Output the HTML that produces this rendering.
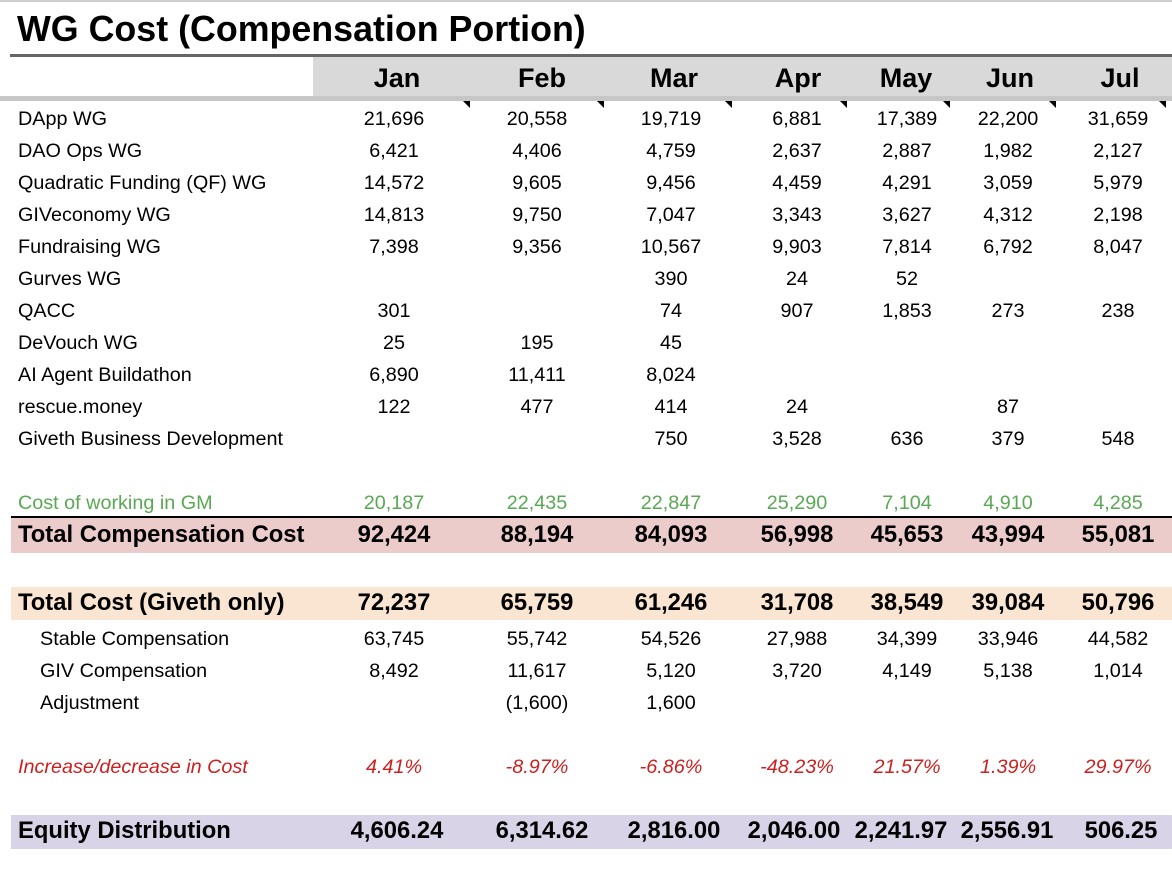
<!DOCTYPE html>
<html><head><meta charset="utf-8"><style>
body{margin:0;width:1172px;height:872px;background:#fff;font-family:"Liberation Sans",Arial,sans-serif;position:relative;overflow:hidden}
.a{position:absolute}
.r{position:absolute;left:0;width:1172px;height:32px;line-height:32px;font-size:19.8px;color:#000}
.r span{position:absolute;top:0;white-space:nowrap}
.r span.v{width:140px;text-align:center}
.g{color:#5aa854}
.red{color:#cc1f1f;font-style:italic}
.b{font-weight:bold;font-size:23.8px}
.tri{position:absolute;width:0;height:0;border-top:7px solid #000;border-left:7px solid transparent}
</style></head><body>
<div class="a" style="left:0;top:0;width:1172px;height:2px;background:#ccc"></div>
<div class="a" style="left:17px;top:7px;font-size:35.8px;font-weight:bold;line-height:44px">WG Cost (Compensation Portion)</div>
<div class="a" style="left:10px;top:54px;width:1162px;height:3px;background:#666"></div>
<div class="a" style="left:313px;top:57px;width:859px;height:39px;background:#d9d9d9"></div>
<div class="a" style="left:0;top:96px;width:1172px;height:5px;background:#c6c6c6"></div>
<div class="r b" style="top:60px;font-size:27px;line-height:36px">
<span class="v" style="left:327px">Jan</span><span class="v" style="left:472px">Feb</span><span class="v" style="left:604px">Mar</span><span class="v" style="left:728px">Apr</span><span class="v" style="left:836px">May</span><span class="v" style="left:940px">Jun</span><span class="v" style="left:1050px">Jul</span></div>
<div class="tri" style="left:463px;top:101px"></div><div class="tri" style="left:597px;top:101px"></div><div class="tri" style="left:725px;top:101px"></div><div class="tri" style="left:840px;top:101px"></div><div class="tri" style="left:943px;top:101px"></div><div class="tri" style="left:1049px;top:101px"></div><div class="tri" style="left:1159px;top:101px"></div>

<div class="a" style="left:11px;top:518px;width:1161px;height:35px;background:#eccbcb"></div>
<div class="a" style="left:11px;top:516px;width:1161px;height:2px;background:#000"></div>
<div class="a" style="left:11px;top:587px;width:1161px;height:33px;background:#f9e5d1"></div>
<div class="a" style="left:11px;top:815px;width:1161px;height:34px;background:#d9d3e8"></div>

<div class="r" style="top:103px"><span style="left:18px">DApp WG</span><span class="v" style="left:324px">21,696</span><span class="v" style="left:467px">20,558</span><span class="v" style="left:601px">19,719</span><span class="v" style="left:727px">6,881</span><span class="v" style="left:837px">17,389</span><span class="v" style="left:938px">22,200</span><span class="v" style="left:1048px">31,659</span></div>
<div class="r" style="top:135px"><span style="left:18px">DAO Ops WG</span><span class="v" style="left:324px">6,421</span><span class="v" style="left:467px">4,406</span><span class="v" style="left:601px">4,759</span><span class="v" style="left:727px">2,637</span><span class="v" style="left:837px">2,887</span><span class="v" style="left:938px">1,982</span><span class="v" style="left:1048px">2,127</span></div>
<div class="r" style="top:167px"><span style="left:18px">Quadratic Funding (QF) WG</span><span class="v" style="left:324px">14,572</span><span class="v" style="left:467px">9,605</span><span class="v" style="left:601px">9,456</span><span class="v" style="left:727px">4,459</span><span class="v" style="left:837px">4,291</span><span class="v" style="left:938px">3,059</span><span class="v" style="left:1048px">5,979</span></div>
<div class="r" style="top:199px"><span style="left:18px">GIVeconomy WG</span><span class="v" style="left:324px">14,813</span><span class="v" style="left:467px">9,750</span><span class="v" style="left:601px">7,047</span><span class="v" style="left:727px">3,343</span><span class="v" style="left:837px">3,627</span><span class="v" style="left:938px">4,312</span><span class="v" style="left:1048px">2,198</span></div>
<div class="r" style="top:231px"><span style="left:18px">Fundraising WG</span><span class="v" style="left:324px">7,398</span><span class="v" style="left:467px">9,356</span><span class="v" style="left:601px">10,567</span><span class="v" style="left:727px">9,903</span><span class="v" style="left:837px">7,814</span><span class="v" style="left:938px">6,792</span><span class="v" style="left:1048px">8,047</span></div>
<div class="r" style="top:263px"><span style="left:18px">Gurves WG</span><span class="v" style="left:601px">390</span><span class="v" style="left:727px">24</span><span class="v" style="left:837px">52</span></div>
<div class="r" style="top:295px"><span style="left:18px">QACC</span><span class="v" style="left:324px">301</span><span class="v" style="left:601px">74</span><span class="v" style="left:727px">907</span><span class="v" style="left:837px">1,853</span><span class="v" style="left:938px">273</span><span class="v" style="left:1048px">238</span></div>
<div class="r" style="top:327px"><span style="left:18px">DeVouch WG</span><span class="v" style="left:324px">25</span><span class="v" style="left:467px">195</span><span class="v" style="left:601px">45</span></div>
<div class="r" style="top:359px"><span style="left:18px">AI Agent Buildathon</span><span class="v" style="left:324px">6,890</span><span class="v" style="left:467px">11,411</span><span class="v" style="left:601px">8,024</span></div>
<div class="r" style="top:391px"><span style="left:18px">rescue.money</span><span class="v" style="left:324px">122</span><span class="v" style="left:467px">477</span><span class="v" style="left:601px">414</span><span class="v" style="left:727px">24</span><span class="v" style="left:938px">87</span></div>
<div class="r" style="top:423px"><span style="left:18px">Giveth Business Development</span><span class="v" style="left:601px">750</span><span class="v" style="left:727px">3,528</span><span class="v" style="left:837px">636</span><span class="v" style="left:938px">379</span><span class="v" style="left:1048px">548</span></div>
<div class="r g" style="top:487px"><span style="left:18px">Cost of working in GM</span><span class="v" style="left:324px">20,187</span><span class="v" style="left:467px">22,435</span><span class="v" style="left:601px">22,847</span><span class="v" style="left:727px">25,290</span><span class="v" style="left:837px">7,104</span><span class="v" style="left:938px">4,910</span><span class="v" style="left:1048px">4,285</span></div>
<div class="r b" style="top:519px"><span style="left:18px">Total Compensation Cost</span><span class="v" style="left:324px">92,424</span><span class="v" style="left:467px">88,194</span><span class="v" style="left:601px">84,093</span><span class="v" style="left:727px">56,998</span><span class="v" style="left:837px">45,653</span><span class="v" style="left:938px">43,994</span><span class="v" style="left:1048px">55,081</span></div>
<div class="r b" style="top:587px"><span style="left:18px">Total Cost (Giveth only)</span><span class="v" style="left:324px">72,237</span><span class="v" style="left:467px">65,759</span><span class="v" style="left:601px">61,246</span><span class="v" style="left:727px">31,708</span><span class="v" style="left:837px">38,549</span><span class="v" style="left:938px">39,084</span><span class="v" style="left:1048px">50,796</span></div>
<div class="r" style="top:623px"><span style="left:40px">Stable Compensation</span><span class="v" style="left:324px">63,745</span><span class="v" style="left:467px">55,742</span><span class="v" style="left:601px">54,526</span><span class="v" style="left:727px">27,988</span><span class="v" style="left:837px">34,399</span><span class="v" style="left:938px">33,946</span><span class="v" style="left:1048px">44,582</span></div>
<div class="r" style="top:655px"><span style="left:40px">GIV Compensation</span><span class="v" style="left:324px">8,492</span><span class="v" style="left:467px">11,617</span><span class="v" style="left:601px">5,120</span><span class="v" style="left:727px">3,720</span><span class="v" style="left:837px">4,149</span><span class="v" style="left:938px">5,138</span><span class="v" style="left:1048px">1,014</span></div>
<div class="r" style="top:687px"><span style="left:40px">Adjustment</span><span class="v" style="left:467px">(1,600)</span><span class="v" style="left:601px">1,600</span></div>
<div class="r red" style="top:751px"><span style="left:18px">Increase/decrease in Cost</span><span class="v" style="left:324px">4.41%</span><span class="v" style="left:467px">-8.97%</span><span class="v" style="left:601px">-6.86%</span><span class="v" style="left:727px">-48.23%</span><span class="v" style="left:837px">21.57%</span><span class="v" style="left:938px">1.39%</span><span class="v" style="left:1048px">29.97%</span></div>
<div class="r b" style="top:815px"><span style="left:18px">Equity Distribution</span><span class="v" style="left:327px">4,606.24</span><span class="v" style="left:472px">6,314.62</span><span class="v" style="left:604px">2,816.00</span><span class="v" style="left:724px">2,046.00</span><span class="v" style="left:831px">2,241.97</span><span class="v" style="left:937px">2,556.91</span><span class="v" style="left:1051px">506.25</span></div>
</body></html>
